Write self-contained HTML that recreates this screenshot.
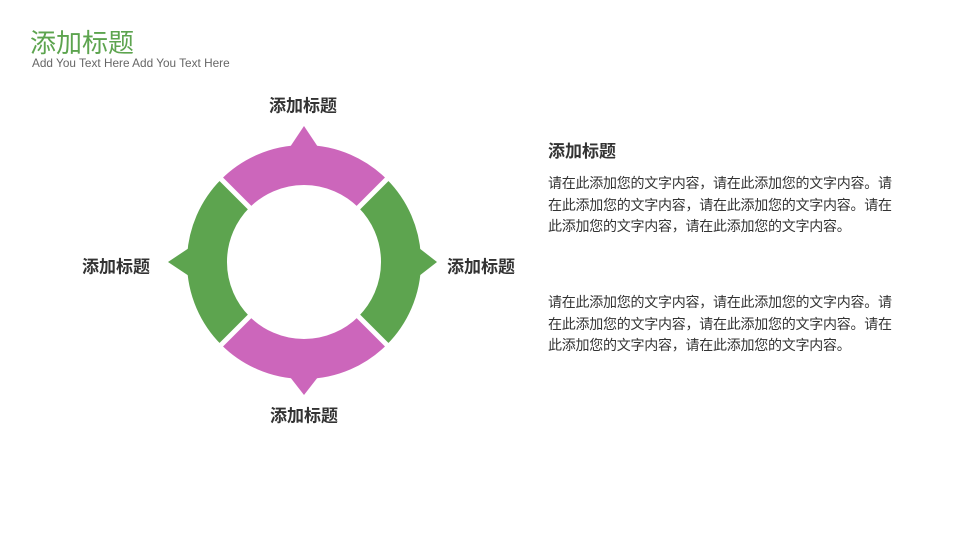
<!DOCTYPE html>
<html><head><meta charset="utf-8"><style>
body{margin:0;width:960px;height:548px;background:#fff;position:relative;overflow:hidden;font-family:"Liberation Sans","Noto Sans CJK SC",sans-serif;}
.a{position:absolute;white-space:nowrap;}
.lbl{font-size:17px;font-weight:bold;color:#333;transform:translate(-50%,-50%);}
.p{font-size:14px;color:#333;line-height:21.5px;width:346px;white-space:normal;letter-spacing:-0.25px;word-break:break-all;}
</style></head><body>
<div class="a" style="left:30px;top:27px;font-size:26px;color:#5DA44F;line-height:32px;">添加标题</div>
<div class="a" style="left:32px;top:56px;font-size:11.8px;color:#666;">Add You Text Here Add You Text Here</div>
<svg class="a" style="left:0;top:0" width="960" height="548">
<g fill="none" stroke-width="40">
<path d="M235.4,193.4 A97,97 0 0 1 372.6,193.4" stroke="#CC66BB"/>
<path d="M372.6,193.4 A97,97 0 0 1 372.6,330.6" stroke="#5DA44F"/>
<path d="M372.6,330.6 A97,97 0 0 1 235.4,330.6" stroke="#CC66BB"/>
<path d="M235.4,330.6 A97,97 0 0 1 235.4,193.4" stroke="#5DA44F"/>
</g>
<polygon points="290,147 318,147 304,126" fill="#CC66BB"/>
<polygon points="290,377 318,377 304,395" fill="#CC66BB"/>
<polygon points="189,248 189,276 168,262" fill="#5DA44F"/>
<polygon points="419,248 419,276 437,262" fill="#5DA44F"/>
<g stroke="#fff" stroke-width="5">
<line x1="304" y1="262" x2="210" y2="168"/><line x1="304" y1="262" x2="398" y2="168"/>
<line x1="304" y1="262" x2="210" y2="356"/><line x1="304" y1="262" x2="398" y2="356"/>
</g>
</svg>
<div class="a lbl" style="left:303px;top:104px;">添加标题</div>
<div class="a lbl" style="left:116px;top:265px;">添加标题</div>
<div class="a lbl" style="left:481px;top:265px;">添加标题</div>
<div class="a lbl" style="left:304px;top:414px;">添加标题</div>
<div class="a" style="left:548px;top:137px;font-size:17px;font-weight:bold;color:#333;">添加标题</div>
<div class="a p" style="left:548px;top:173px;">请在此添加您的文字内容，请在此添加您的文字内容。请在此添加您的文字内容，请在此添加您的文字内容。请在此添加您的文字内容，请在此添加您的文字内容。</div>
<div class="a p" style="left:548px;top:292px;">请在此添加您的文字内容，请在此添加您的文字内容。请在此添加您的文字内容，请在此添加您的文字内容。请在此添加您的文字内容，请在此添加您的文字内容。</div>
</body></html>
